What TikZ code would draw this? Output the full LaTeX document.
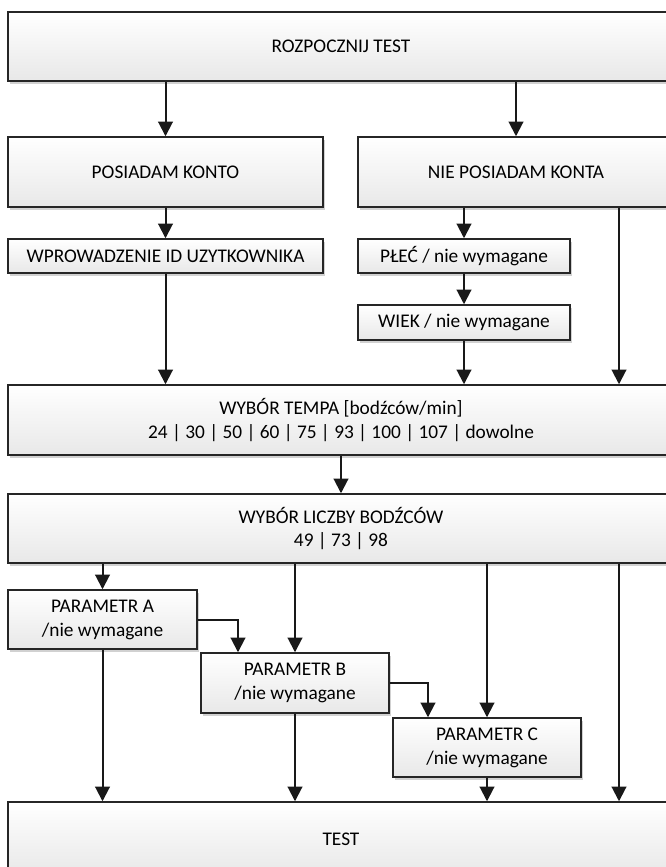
\documentclass[tikz,border=0pt]{standalone}
\usepackage{fontspec}
\setmainfont{Carlito}
\usetikzlibrary{arrows.meta,shadows,calc}
\begin{document}
\begin{tikzpicture}[x=0.75pt,y=-0.75pt,
  box/.style={draw=black!85, line width=1.1pt, top color=white, bottom color=black!9,
    inner sep=0pt, align=center, font=\fontsize{14.5}{17.5}\selectfont, text=black,
    drop shadow={shadow xshift=1.8pt, shadow yshift=-2.2pt, fill=black, opacity=0.18}},
  sz/.style 2 args={minimum width={#1*0.75pt}, minimum height={#2*0.75pt}},
  pfont/.style={font=\fontsize{14.5}{18}\selectfont},
  arr/.style={line width=1.5pt, draw=black!90, -{Triangle[width=11pt,length=11pt]}}]
\useasboundingbox (0,0) rectangle (666,867);
\clip (0,0) rectangle (666,867);
\node[box, sz={666}{69}] (start) at (341,46.5) {ROZPOCZNIJ TEST};
\node[box, sz={315}{70}] (pos) at (165.5,172) {POSIADAM KONTO};
\node[box, sz={316}{70}] (nie) at (516,172) {NIE POSIADAM KONTA};
\node[box, sz={315}{34}] (wpr) at (165.5,256) {WPROWADZENIE ID UZYTKOWNIKA};
\node[box, sz={212}{34}] (plec) at (464,256) {PŁEĆ / nie wymagane};
\node[box, sz={212}{35}] (wiek) at (464,322.5) {WIEK / nie wymagane};
\node[box, sz={666}{70}] (tempa) at (341,420) {WYBÓR TEMPA [bodźców/min]\\24 | 30 | 50 | 60 | 75 | 93 | 100 | 107 | dowolne};
\node[box, sz={666}{69}] (liczby) at (341,528.5) {WYBÓR LICZBY BODŹCÓW\\49 | 73 | 98};
\node[box, pfont, sz={189}{59}] (pa) at (102.5,619.5) {PARAMETR A\\/nie wymagane};
\node[box, pfont, sz={188}{60}] (pb) at (295,683) {PARAMETR B\\/nie wymagane};
\node[box, pfont, sz={188}{59}] (pc) at (487,747.5) {PARAMETR C\\/nie wymagane};
\node[box, sz={666}{74}] (test) at (341,839) {TEST};
\coordinate (r) at (619,0);
\coordinate (ab) at (238,0);
\coordinate (bc) at (428,0);
\draw[arr] (pos.north |- start.south) -- (pos.north);
\draw[arr] (nie.north |- start.south) -- (nie.north);
\draw[arr] (pos.south) -- (wpr.north);
\draw[arr] (plec.north |- nie.south) -- (plec.north);
\draw[arr] (plec.south) -- (wiek.north);
\draw[arr] (r |- nie.south) -- (r |- tempa.north);
\draw[arr] (wpr.south) -- (wpr.south |- tempa.north);
\draw[arr] (wiek.south) -- (wiek.south |- tempa.north);
\draw[arr] (tempa.south) -- (liczby.north);
\draw[arr] (pa.north |- liczby.south) -- (pa.north);
\draw[arr] (pb.north |- liczby.south) -- (pb.north);
\draw[arr] (pa.east) -| (ab |- pb.north);
\draw[arr] (pc.north |- liczby.south) -- (pc.north);
\draw[arr] (pb.east) -| (bc |- pc.north);
\draw[arr] (r |- liczby.south) -- (r |- test.north);
\draw[arr] (pa.south) -- (pa.south |- test.north);
\draw[arr] (pb.south) -- (pb.south |- test.north);
\draw[arr] (pc.south) -- (pc.south |- test.north);
\end{tikzpicture}
\end{document}
